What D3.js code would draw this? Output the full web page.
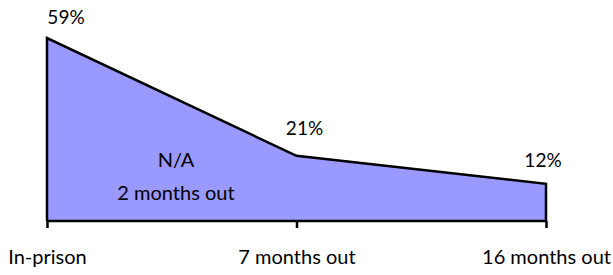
<!DOCTYPE html>
<html>
<head>
<meta charset="utf-8">
<script src="https://cdn.jsdelivr.net/npm/d3@7"></script>
<style>
  html, body { margin: 0; padding: 0; background: #fff; }
  #content { width: 613px; height: 275px; }
  text { font-family: "Lato", "Open Sans", sans-serif; fill: #000; }
</style>
</head>
<body>
<div id="content"></div>
<script>
var width = 613;
var height = 275;

var categories = ['In-prison', '7 months out', '16 months out'];
var values = [59, 21, 12];
var valueLabels = ['59%', '21%', '12%'];
var noteLines = ['N/A', '2 months out'];

var svg = d3.select('div#content').append('svg')
  .attr('width', width)
  .attr('height', height);

var x = d3.scalePoint()
  .domain(categories)
  .range([47, 546]);

var y = d3.scaleLinear()
  .domain([0, 59])
  .range([221, 38]);

var area = d3.area()
  .x(function(d, i){ return x(categories[i]); })
  .y0(y(0))
  .y1(function(d){ return y(d); });

var line = d3.line()
  .x(function(d){ return d[0]; })
  .y(function(d){ return d[1]; });

svg.append('path')
  .attr('d', area(values))
  .attr('fill', '#9999FF')
  .attr('stroke', 'none');

// outline: left edge, top line, right edge
var outline = [[x(categories[0]), y(0)]];
values.forEach(function(v, i){ outline.push([x(categories[i]), y(v)]); });
outline.push([x(categories[categories.length - 1]), y(0)]);
svg.append('path')
  .attr('d', line(outline))
  .attr('fill', 'none')
  .attr('stroke', '#000')
  .attr('stroke-width', 2.5)
  .attr('stroke-linejoin', 'miter');

// x axis
var axis = svg.append('g')
  .attr('transform', 'translate(0,' + y(0) + ')')
  .call(d3.axisBottom(x).tickSize(7).tickSizeOuter(0));
axis.select('.domain')
  .attr('stroke', '#000')
  .attr('stroke-width', 2.5)
  .attr('d', 'M' + x.range()[0] + ',0H' + x.range()[1]);
axis.selectAll('.tick line')
  .attr('stroke', '#000')
  .attr('stroke-width', 2.5);
axis.selectAll('.tick text')
  .attr('font-family', 'Lato, "Open Sans", sans-serif')
  .attr('font-size', 20)
  .attr('fill', '#000')
  .attr('dy', 0)
  .attr('y', 43);

// value labels
var labelDx = [19, 8, -3];
var labelDy = [-14, -21, -17];
svg.append('g')
  .selectAll('text')
  .data(values)
  .enter()
  .append('text')
  .attr('x', function(d, i){ return x(categories[i]) + labelDx[i]; })
  .attr('y', function(d, i){ return y(d) + labelDy[i]; })
  .attr('text-anchor', 'middle')
  .attr('font-size', 19)
  .text(function(d, i){ return valueLabels[i]; });

// missing point note
svg.append('g')
  .selectAll('text')
  .data(noteLines)
  .enter()
  .append('text')
  .attr('x', 176)
  .attr('y', function(d, i){ return 167 + i * 33; })
  .attr('text-anchor', 'middle')
  .attr('font-size', 20)
  .text(function(d){ return d; });
</script>
</body>
</html>
